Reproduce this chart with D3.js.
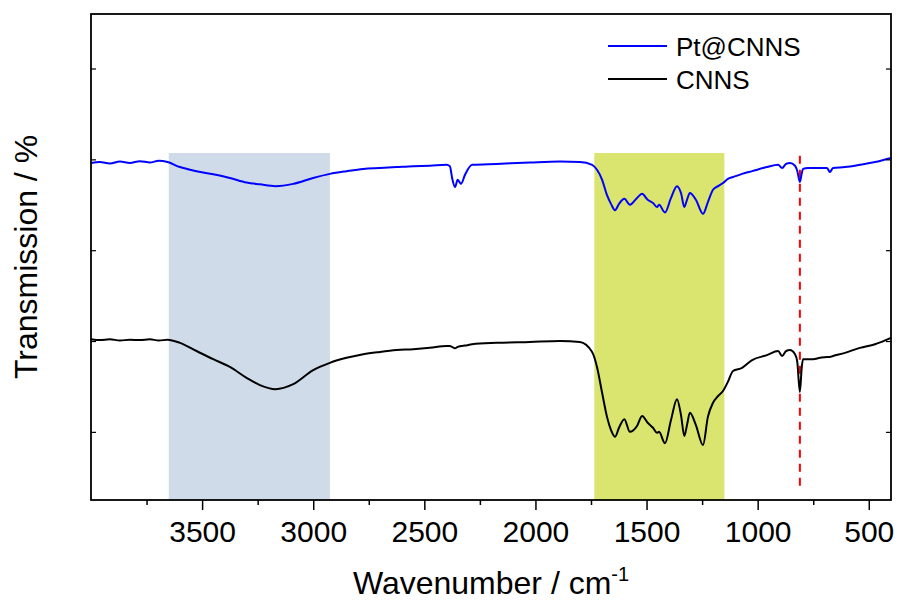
<!DOCTYPE html>
<html>
<head>
<meta charset="utf-8">
<script src="https://cdn.jsdelivr.net/npm/d3@7"></script>
<style>
  html, body { margin: 0; padding: 0; background: #fff; }
  svg { display: block; }
  text { font-family: Arial, "Liberation Sans", sans-serif; fill: #000; }
</style>
</head>
<body>
<svg id="chart" width="898" height="601"></svg>
<script>
// ---- data ----
const wavenumbers = [4000, 3960, 3915, 3870, 3825, 3780, 3735, 3695, 3655, 3600, 3525, 3450, 3375, 3300, 3240, 3170, 3090, 3000, 2925, 2850, 2775, 2700, 2625, 2550, 2475, 2400, 2385, 2375, 2362, 2350, 2335, 2317, 2285, 2175, 2025, 1890, 1800, 1745, 1723, 1700, 1678, 1660, 1642, 1624, 1600, 1575, 1543, 1520, 1495, 1471, 1453, 1444, 1417, 1390, 1363, 1345, 1330, 1318, 1305, 1278, 1246, 1224, 1201, 1178, 1156, 1134, 1111, 1070, 1025, 958, 908, 890, 872, 855, 832, 822, 810, 802, 796, 774, 751, 720, 688, 675, 661, 607, 540, 472, 400];
const ptCnns = [74.2, 74.4, 74.1, 74.5, 74.2, 74.6, 74.3, 74.7, 74.4, 73.3, 72.4, 71.7, 70.9, 69.9, 69.5, 69.1, 69.6, 70.9, 71.8, 72.4, 72.9, 73.1, 73.3, 73.5, 73.6, 73.8, 73.5, 70.9, 68.9, 70.5, 69.6, 71.6, 73.8, 74.0, 74.3, 74.5, 74.4, 73.8, 72.7, 70.5, 67.1, 65.2, 63.8, 65.2, 66.3, 65.0, 66.5, 67.4, 66.1, 65.4, 64.5, 65.0, 63.3, 66.5, 69.1, 67.6, 64.5, 66.1, 67.6, 66.1, 63.0, 65.6, 68.3, 69.1, 69.8, 70.7, 71.1, 71.8, 72.4, 73.3, 73.8, 73.1, 74.0, 74.2, 73.6, 72.5, 70.0, 71.8, 72.9, 73.1, 73.1, 73.1, 73.1, 72.2, 73.1, 73.3, 73.8, 74.4, 75.3];
const cnns = [35.4, 35.2, 35.4, 35.1, 35.3, 35.2, 35.4, 35.1, 35.3, 34.6, 32.8, 31.0, 29.3, 26.9, 25.3, 24.4, 25.5, 28.6, 30.2, 31.3, 32.1, 32.6, 33.0, 33.2, 33.5, 33.9, 33.9, 33.7, 33.4, 33.7, 33.9, 34.0, 34.3, 34.6, 34.8, 35.0, 34.8, 32.6, 29.3, 23.6, 18.3, 15.4, 13.9, 15.9, 17.8, 15.0, 16.3, 18.5, 17.0, 15.9, 14.8, 15.0, 12.5, 17.6, 22.2, 18.7, 14.1, 16.5, 19.2, 16.5, 12.1, 18.3, 21.4, 22.9, 24.0, 26.0, 28.4, 29.1, 30.8, 31.9, 32.8, 31.7, 32.8, 33.0, 32.1, 30.5, 23.8, 29.0, 31.0, 31.0, 31.0, 31.3, 31.5, 31.5, 31.7, 32.4, 33.5, 34.3, 35.7];
const seriesNames = ["Pt@CNNS", "CNNS"];
const seriesColors = ["#0000ff", "#000000"];
const xMajorTicks = [3500, 3000, 2500, 2000, 1500, 1000, 500];
const xMinorTicks = [3750, 3250, 2750, 2250, 1750, 1250, 750];
const yTicks = [15, 35, 55, 75, 95];
const bandStarts = [3650, 1735];
const bandEnds = [2925, 1150];
const bandColors = ["#cfdbe8", "#d9e56e"];
const bandTop = 76.4;
const markerWavenumber = 810;
const markerRange = [2.2, 75.8];

// ---- layout ----
const svg = d3.select("#chart");
const L = 91, R = 891, T = 14, B = 500;
const x = d3.scaleLinear().domain([4000, 400]).range([L, R]);
const y = d3.scaleLinear().domain([0, 107]).range([B, T]);

// bands
svg.append("g").selectAll("rect").data(bandStarts).join("rect")
  .attr("x", (d) => x(d))
  .attr("width", (d, i) => x(bandEnds[i]) - x(d))
  .attr("y", y(bandTop))
  .attr("height", y(0) - y(bandTop))
  .attr("fill", (d, i) => bandColors[i]);

// marker line
svg.append("line")
  .attr("x1", x(markerWavenumber)).attr("x2", x(markerWavenumber))
  .attr("y1", y(markerRange[1])).attr("y2", y(markerRange[0]))
  .attr("stroke", "#ff0000").attr("stroke-width", 2)
  .attr("stroke-dasharray", "8,6");

// lines
const line = d3.line().x((d) => x(d[0])).y((d) => y(d[1])).curve(d3.curveMonotoneX);
const series = [ptCnns, cnns];
series.forEach((vals, i) => {
  svg.append("path")
    .datum(wavenumbers.map((w, j) => [w, vals[j]]))
    .attr("fill", "none")
    .attr("stroke", seriesColors[i])
    .attr("stroke-width", 2)
    .attr("stroke-linejoin", "round")
    .attr("d", line);
});

// axes
const xAxis = svg.append("g").attr("transform", `translate(0,${B})`)
  .call(d3.axisBottom(x).tickValues(xMajorTicks).tickSize(10).tickPadding(11).tickFormat(d3.format("d")));
xAxis.select(".domain").remove();
xAxis.selectAll("line").attr("stroke", "#000").attr("stroke-width", 1.5);
xAxis.selectAll("text").attr("font-size", 30).style("font-family", "Arial, 'Liberation Sans', sans-serif");

const xMinor = svg.append("g").attr("transform", `translate(0,${B})`)
  .call(d3.axisBottom(x).tickValues(xMinorTicks).tickSize(5).tickFormat(""));
xMinor.select(".domain").remove();
xMinor.selectAll("line").attr("stroke", "#000").attr("stroke-width", 1.5);

const yLeft = svg.append("g").attr("transform", `translate(${L},0)`)
  .call(d3.axisRight(y).tickValues(yTicks).tickSize(5).tickFormat(""));
yLeft.select(".domain").remove();
yLeft.selectAll("line").attr("stroke", "#000").attr("stroke-width", 1.2);

const yRight = svg.append("g").attr("transform", `translate(${R},0)`)
  .call(d3.axisLeft(y).tickValues(yTicks).tickSize(5).tickFormat(""));
yRight.select(".domain").remove();
yRight.selectAll("line").attr("stroke", "#000").attr("stroke-width", 1.2);

// frame
svg.append("rect").attr("x", L).attr("y", T).attr("width", R - L).attr("height", B - T)
  .attr("fill", "none").attr("stroke", "#000").attr("stroke-width", 1.8);

// titles
const xt = svg.append("text").attr("x", (L + R) / 2).attr("y", 594)
  .attr("text-anchor", "middle").attr("font-size", 32);
xt.append("tspan").text("Wavenumber / cm");
xt.append("tspan").attr("font-size", 20).attr("dy", -13).text("-1");

svg.append("text")
  .attr("transform", `translate(37,${(T + B) / 2}) rotate(-90)`)
  .attr("text-anchor", "middle").attr("font-size", 32)
  .text("Transmission / %");

// legend
const leg = svg.append("g");
seriesNames.forEach((name, i) => {
  const ly = 46 + i * 33;
  leg.append("line").attr("x1", 608).attr("x2", 667).attr("y1", ly).attr("y2", ly)
    .attr("stroke", seriesColors[i]).attr("stroke-width", 2);
  leg.append("text").attr("x", 676).attr("y", ly + 9.5).attr("font-size", 26).text(name);
});
</script>
</body>
</html>
